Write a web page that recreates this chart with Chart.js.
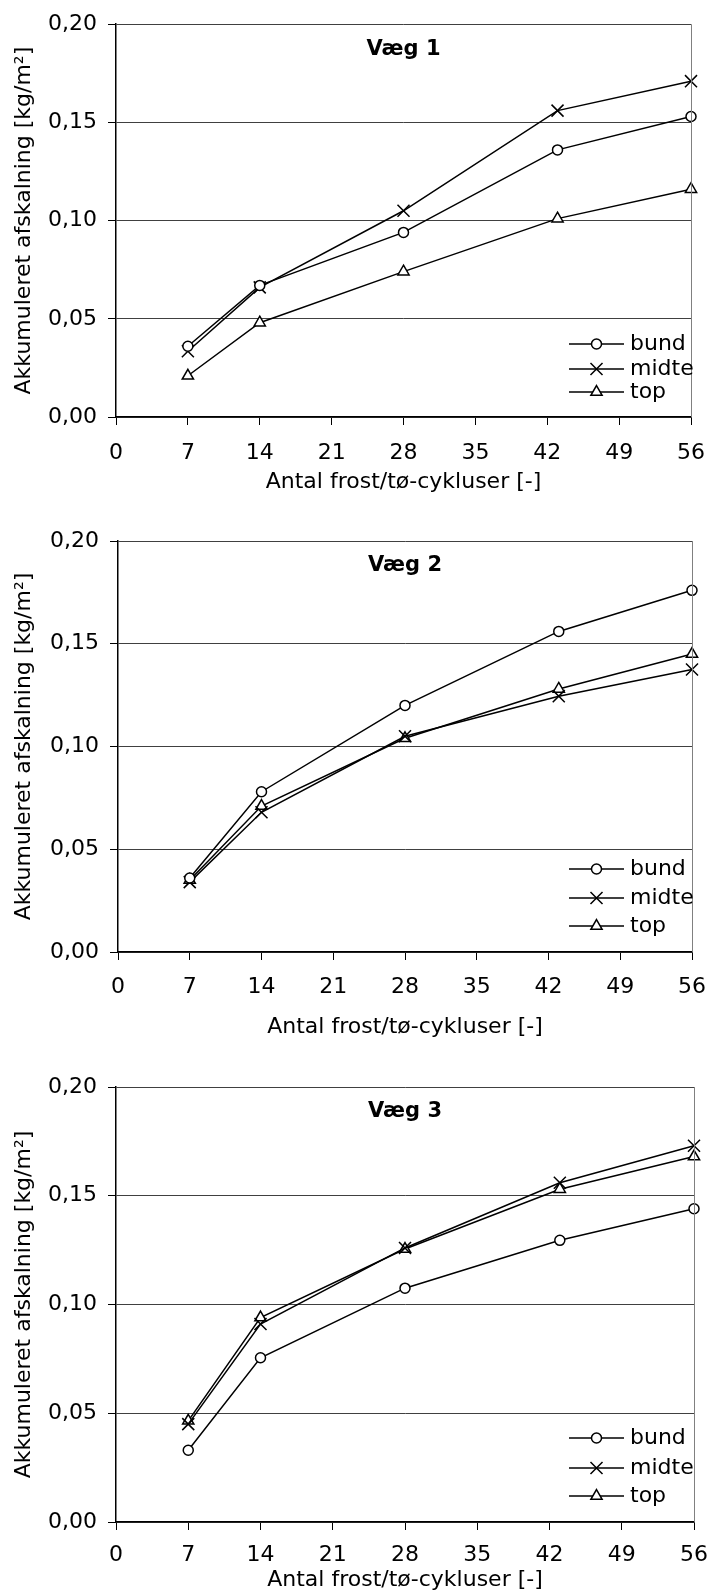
<!DOCTYPE html>
<html>
<head>
<meta charset="utf-8">
<script src="https://cdn.jsdelivr.net/npm/chart.js@4/dist/chart.umd.min.js"></script>
<style>
  html, body { margin: 0; padding: 0; background: #fff; }
  body { width: 720px; height: 1593px; position: relative; overflow: hidden; }
  .box { position: absolute; left: 0; width: 720px; }
</style>
</head>
<body>
<div class="box" style="top:0;height:495px"><canvas id="c1"></canvas></div>
<div class="box" style="top:500px;height:540px"><canvas id="c2"></canvas></div>
<div class="box" style="top:1040px;height:553px"><canvas id="c3"></canvas></div>

<script>
// ---------- data ----------
const cycles = [7, 14, 28, 43, 56];
const seriesNames = ["bund", "midte", "top"];
const xTickStep = 7;
const yTickStep = 0.05;

const vaeg1Bund  = [0.036, 0.067, 0.094, 0.136, 0.153];
const vaeg1Midte = [0.0335, 0.066, 0.105, 0.156, 0.171];
const vaeg1Top   = [0.021, 0.048, 0.074, 0.101, 0.116];

const vaeg2Bund  = [0.036, 0.078, 0.120, 0.156, 0.176];
const vaeg2Midte = [0.034, 0.068, 0.105, 0.1245, 0.1375];
const vaeg2Top   = [0.035, 0.071, 0.104, 0.128, 0.145];

const vaeg3Bund  = [0.033, 0.0755, 0.1075, 0.1295, 0.144];
const vaeg3Midte = [0.045, 0.091, 0.126, 0.156, 0.173];
const vaeg3Top   = [0.0465, 0.094, 0.1255, 0.153, 0.168];

// ---------- look ----------
const FONT = "'DejaVu Sans', sans-serif";
const markers = [
  { pointStyle: "circle", radius: 5 },
  { pointStyle: "crossRot", radius: 8.5 },
  { pointStyle: "triangle", radius: 6.5 }
];

// title inside the plot, legend bottom-right, grey right border
const panelPlugin = {
  id: "panel",
  afterDraw(chart, args, opts) {
    const ctx = chart.ctx;
    const a = chart.chartArea;
    ctx.save();

    ctx.strokeStyle = "#808080";
    ctx.lineWidth = 1;
    ctx.beginPath();
    ctx.moveTo(a.right + 0.5, a.top);
    ctx.lineTo(a.right + 0.5, a.bottom);
    ctx.stroke();

    ctx.fillStyle = "#000";
    ctx.font = "bold 21px " + FONT;
    ctx.textAlign = "center";
    ctx.textBaseline = "middle";
    ctx.fillText(opts.title, (a.left + a.right) / 2, a.top + 25);

    ctx.font = "22px " + FONT;
    ctx.textAlign = "left";
    chart.data.datasets.forEach((ds, i) => {
      const y = a.bottom - opts.rows[i];
      ctx.strokeStyle = "#000";
      ctx.lineWidth = 1.5;
      ctx.beginPath();
      ctx.moveTo(569, y);
      ctx.lineTo(624, y);
      ctx.stroke();
      ctx.fillStyle = "#fff";
      Chart.helpers.drawPoint(ctx, {
        pointStyle: ds.pointStyle, radius: ds.pointRadius,
        borderWidth: 1.5, rotation: 0
      }, 596.5, y);
      ctx.fillStyle = "#000";
      ctx.fillText(ds.label, 630, y);
    });
    ctx.restore();
  }
};

function makeChart(id, title, values, cfg) {
  const datasets = values.map((vals, i) => ({
    label: seriesNames[i],
    data: cycles.map((c, j) => ({ x: c, y: vals[j] })),
    borderColor: "#000",
    borderWidth: 1.5,
    pointStyle: markers[i].pointStyle,
    pointRadius: markers[i].radius,
    pointHoverRadius: markers[i].radius,
    pointBorderColor: "#000",
    pointBackgroundColor: "#fff",
    pointBorderWidth: 1.5,
    tension: 0,
    clip: false
  }));

  return new Chart(document.getElementById(id), {
    type: "line",
    data: { datasets },
    plugins: [panelPlugin],
    options: {
      responsive: true,
      maintainAspectRatio: false,
      animation: false,
      events: [],
      layout: { padding: { top: cfg.top, right: 17, left: 0, bottom: 0 } },
      plugins: {
        legend: { display: false },
        tooltip: { enabled: false },
        panel: { title: title, rows: cfg.rows }
      },
      scales: {
        x: {
          type: "linear",
          min: 0, max: 56,
          afterFit: s => { s.height = cfg.xHeight; },
          ticks: {
            stepSize: xTickStep,
            padding: cfg.xPad,
            color: "#000",
            maxRotation: 0,
            font: { family: FONT, size: 22 }
          },
          grid: { drawOnChartArea: false, drawTicks: true, tickLength: 8, color: "#000", lineWidth: 1 },
          border: { color: "#000", width: 1.5 },
          title: {
            display: true,
            text: "Antal frost/tø-cykluser [-]",
            color: "#000",
            padding: 0,
            font: { family: FONT, size: 22 }
          }
        },
        y: {
          min: 0, max: 0.2,
          afterFit: s => { s.width = cfg.yWidth; },
          ticks: {
            stepSize: yTickStep,
            padding: 11,
            color: "#000",
            font: { family: FONT, size: 22 },
            callback: v => v.toFixed(2).replace(".", ",")
          },
          grid: { color: "#404040", lineWidth: 1, tickLength: 8, tickColor: "#000" },
          border: { color: "#000", width: 1.5 },
          title: {
            display: true,
            text: "Akkumuleret afskalning [kg/m²]",
            color: "#000",
            padding: { top: 11, bottom: 0 },
            font: { family: FONT, size: 22 }
          }
        }
      }
    }
  });
}

makeChart("c1", "Væg 1", [vaeg1Bund, vaeg1Midte, vaeg1Top],
  { top: 23, xHeight: 78, xPad: 15, yWidth: 116, rows: [73, 48, 25] });
makeChart("c2", "Væg 2", [vaeg2Bund, vaeg2Midte, vaeg2Top],
  { top: 41, xHeight: 88, xPad: 14, yWidth: 118, rows: [83, 54, 26] });
makeChart("c3", "Væg 3", [vaeg3Bund, vaeg3Midte, vaeg3Top],
  { top: 47, xHeight: 71, xPad: 12, yWidth: 116, rows: [84, 54, 26] });
</script>
</body>
</html>
